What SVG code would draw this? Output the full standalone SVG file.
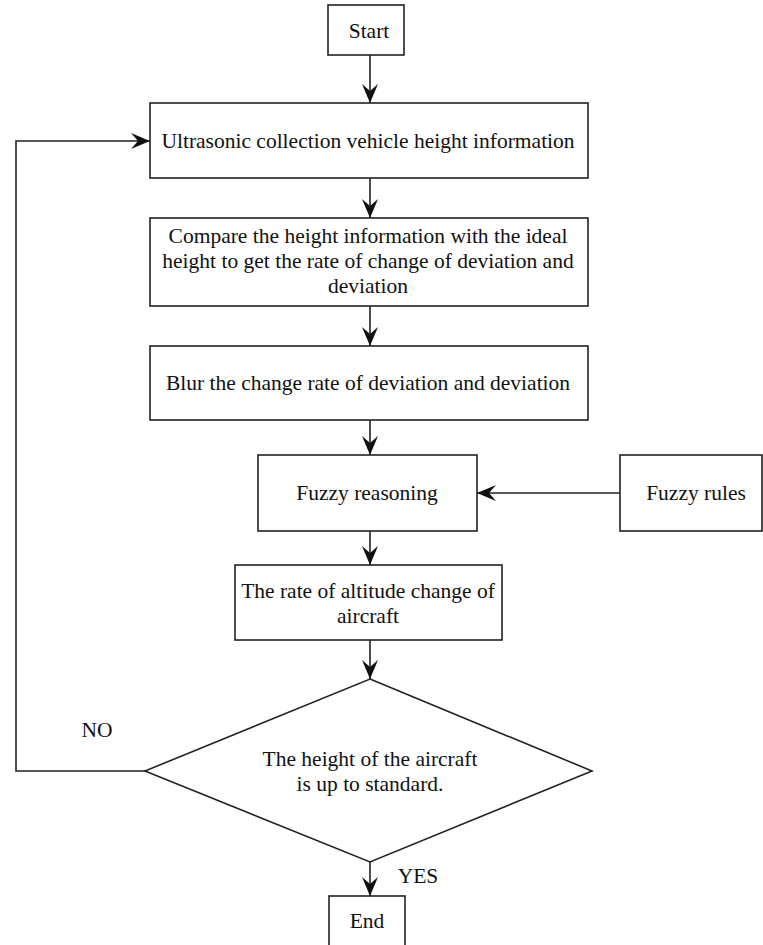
<svg xmlns="http://www.w3.org/2000/svg" width="763" height="945" viewBox="0 0 763 945" font-family="Liberation Serif, Times New Roman, serif" font-size="21.5">
<style>
.box{fill:#fff;stroke:#222;stroke-width:1.6}
.ln{fill:none;stroke:#222;stroke-width:1.6}
text{fill:#111;text-anchor:middle}
</style>
<defs>
<marker id="arr" viewBox="-20 -10 22 20" refX="0" refY="0" markerWidth="22" markerHeight="20" markerUnits="userSpaceOnUse" orient="auto">
<path d="M0,0 L-19,-8 L-12,0 L-19,8 Z" fill="#111"/>
</marker>
</defs>
<rect width="763" height="945" fill="#fff"/>
<g id="connectors">
<line class="ln" x1="370" y1="55" x2="370" y2="103" marker-end="url(#arr)"/>
<line class="ln" x1="370" y1="178" x2="370" y2="218" marker-end="url(#arr)"/>
<line class="ln" x1="370" y1="306" x2="370" y2="346" marker-end="url(#arr)"/>
<line class="ln" x1="370" y1="420" x2="370" y2="455" marker-end="url(#arr)"/>
<line class="ln" x1="370" y1="531" x2="370" y2="565" marker-end="url(#arr)"/>
<line class="ln" x1="370" y1="640" x2="370" y2="679" marker-end="url(#arr)"/>
<line class="ln" x1="370" y1="862" x2="370" y2="896" marker-end="url(#arr)"/>
<line class="ln" x1="620" y1="493" x2="477" y2="493" marker-end="url(#arr)"/>
<polyline class="ln" points="145,771 16,771 16,141 150,141" marker-end="url(#arr)"/>
<text x="97" y="737">NO</text>
<text x="418" y="883">YES</text>
</g>
<g id="start"><rect class="box" x="328" y="5" width="76" height="50"/><text x="369" y="38">Start</text></g>
<g id="collect"><rect class="box" x="150" y="103" width="438" height="75"/><text x="368" y="148">Ultrasonic collection vehicle height information</text></g>
<g id="compare"><rect class="box" x="150" y="218" width="438" height="88"/>
<text x="368" y="243">Compare the height information with the ideal</text>
<text x="368" y="268">height to get the rate of change of deviation and</text>
<text x="368" y="293">deviation</text></g>
<g id="blur"><rect class="box" x="150" y="346" width="438" height="74"/><text x="368" y="390">Blur the change rate of deviation and deviation</text></g>
<g id="reasoning"><rect class="box" x="258" y="455" width="219" height="76"/><text x="367" y="500">Fuzzy reasoning</text></g>
<g id="rules"><rect class="box" x="620" y="455" width="142" height="76"/><text x="696" y="500">Fuzzy rules</text></g>
<g id="rate"><rect class="box" x="235" y="565" width="267" height="75"/>
<text x="368" y="598">The rate of altitude change of</text>
<text x="368" y="623">aircraft</text></g>
<g id="decision"><polygon class="box" points="370,679 592,771 370,862 145,771"/>
<text x="370" y="766">The height of the aircraft</text>
<text x="370" y="791">is up to standard.</text></g>
<g id="end"><rect class="box" x="329" y="896" width="76" height="56"/><text x="367" y="928">End</text></g>
</svg>
